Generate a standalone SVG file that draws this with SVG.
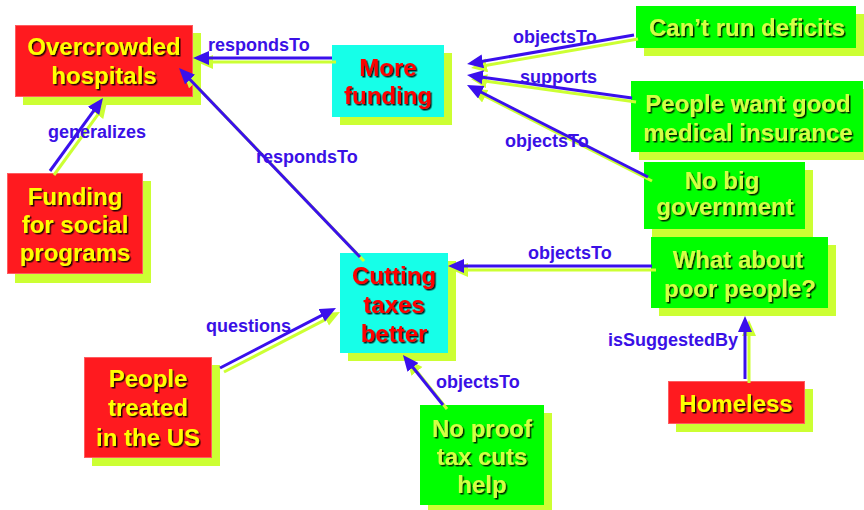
<svg xmlns="http://www.w3.org/2000/svg" width="864" height="510" viewBox="0 0 864 510">
  <defs>
    <style>
      .shadow { fill: #ccff33; }
      .red { fill: #ff1a1f; stroke: #ff5c60; stroke-width: 1; }
      .cyan { fill: #16ffe8; }
      .green { fill: #00ff00; }
      .node-text { font-family: "Liberation Sans", Arial, sans-serif; font-weight: bold; font-size: 24px; text-anchor: middle; filter: url(#txtShadow); }
      .on-red { fill: #ffff00; }
      .on-cyan { fill: #ff0000; }
      .on-green { fill: #d4ff44; }
      .edge { fill: none; stroke: #3a10ec; stroke-width: 3; }
      .edge-shadow { fill: none; stroke: #ccff33; stroke-width: 3; }
      .label { font-family: "Liberation Sans", Arial, sans-serif; font-weight: bold; font-size: 18px; fill: #3a10e6; }
    </style>
    <filter id="txtShadow" x="-10%" y="-10%" width="130%" height="140%">
      <feDropShadow dx="1.5" dy="1.5" stdDeviation="0.3" flood-color="#000" flood-opacity="0.85"/>
    </filter>
    <marker id="arrow" markerUnits="userSpaceOnUse" markerWidth="18" markerHeight="16" refX="6" refY="7" orient="auto">
      <path d="M0,0 L16,7 L0,14 z" fill="#3a10ec"/>
    </marker>
    <marker id="arrowShadow" markerUnits="userSpaceOnUse" markerWidth="18" markerHeight="16" refX="6" refY="7" orient="auto">
      <path d="M0,0 L16,7 L0,14 z" fill="#ccff33"/>
    </marker>
  </defs>

  <rect width="864" height="510" fill="#ffffff"/>

  <g id="overcrowded-hospitals">
    <rect class="shadow" x="23" y="33" width="178" height="72"/>
    <rect class="red" x="15.5" y="25.5" width="177" height="71"/>
    <text class="node-text on-red" x="104" y="55">Overcrowded<tspan x="104" y="84">hospitals</tspan></text>
  </g>

  <g id="more-funding">
    <rect class="shadow" x="340" y="53" width="112" height="72"/>
    <rect class="cyan" x="332" y="45" width="112" height="72"/>
    <text class="node-text on-cyan" x="388" y="76">More<tspan x="388" y="104">funding</tspan></text>
  </g>

  <g id="cant-run-deficits">
    <rect class="shadow" x="644" y="14" width="220" height="42"/>
    <rect class="green" x="636" y="6" width="220" height="42"/>
    <text class="node-text on-green" x="747" y="36">Can’t run deficits</text>
  </g>

  <g id="medical-insurance">
    <rect class="shadow" x="639" y="89" width="232" height="71"/>
    <rect class="green" x="631" y="81" width="232" height="71"/>
    <text class="node-text on-green" x="748" y="112">People want good<tspan x="748" y="141">medical insurance</tspan></text>
  </g>

  <g id="no-big-government">
    <rect class="shadow" x="652" y="170" width="161" height="67"/>
    <rect class="green" x="644" y="162" width="161" height="67"/>
    <text class="node-text on-green" x="722" y="189">No big<tspan x="725" y="215">government</tspan></text>
  </g>

  <g id="what-about-poor">
    <rect class="shadow" x="659" y="245" width="177" height="71"/>
    <rect class="green" x="651" y="237" width="177" height="71"/>
    <text class="node-text on-green" x="738" y="268">What about<tspan x="740" y="297">poor people?</tspan></text>
  </g>

  <g id="homeless">
    <rect class="shadow" x="676" y="389" width="137" height="43"/>
    <rect class="red" x="668.5" y="381.5" width="136" height="42"/>
    <text class="node-text on-red" x="736" y="412">Homeless</text>
  </g>

  <g id="no-proof">
    <rect class="shadow" x="428" y="413" width="124" height="100"/>
    <rect class="green" x="420" y="405" width="124" height="100"/>
    <text class="node-text on-green" x="482" y="437">No proof<tspan x="482" y="465">tax cuts</tspan><tspan x="482" y="493">help</tspan></text>
  </g>

  <g id="cutting-taxes">
    <rect class="shadow" x="348" y="261" width="108" height="100"/>
    <rect class="cyan" x="340" y="253" width="108" height="100"/>
    <text class="node-text on-cyan" x="394" y="284">Cutting<tspan x="394" y="313">taxes</tspan><tspan x="394" y="342">better</tspan></text>
  </g>

  <g id="people-treated">
    <rect class="shadow" x="92" y="365" width="128" height="101"/>
    <rect class="red" x="84.5" y="357.5" width="127" height="100"/>
    <text class="node-text on-red" x="148" y="387">People<tspan x="148" y="416">treated</tspan><tspan x="148" y="446">in the US</tspan></text>
  </g>

  <g id="funding-social">
    <rect class="shadow" x="15" y="181" width="136" height="102"/>
    <rect class="red" x="7.5" y="173.5" width="135" height="100"/>
    <text class="node-text on-red" x="75" y="205">Funding<tspan x="75" y="233">for social</tspan><tspan x="75" y="261">programs</tspan></text>
  </g>

  <!-- connectors: a lime copy offset down-right, then the blue line on top -->
  <g id="connectors">
    <g transform="translate(4,4)">
      <line class="edge-shadow" x1="332" y1="58" x2="203" y2="58" marker-end="url(#arrowShadow)"/>
      <line class="edge-shadow" x1="50" y1="171" x2="97.1" y2="106.1" marker-end="url(#arrowShadow)"/>
      <line class="edge-shadow" x1="360" y1="257" x2="185.9" y2="75.2" marker-end="url(#arrowShadow)"/>
      <line class="edge-shadow" x1="634" y1="35" x2="476.9" y2="62.3" marker-end="url(#arrowShadow)"/>
      <line class="edge-shadow" x1="632" y1="98" x2="476.9" y2="76.4" marker-end="url(#arrowShadow)"/>
      <line class="edge-shadow" x1="648" y1="177" x2="475.9" y2="89.5" marker-end="url(#arrowShadow)"/>
      <line class="edge-shadow" x1="652" y1="266" x2="458" y2="266" marker-end="url(#arrowShadow)"/>
      <line class="edge-shadow" x1="745" y1="379" x2="745" y2="326" marker-end="url(#arrowShadow)"/>
      <line class="edge-shadow" x1="220" y1="368" x2="327.1" y2="312.6" marker-end="url(#arrowShadow)"/>
      <line class="edge-shadow" x1="443" y1="405" x2="409.2" y2="362.8" marker-end="url(#arrowShadow)"/>
    </g>
    <line class="edge" x1="332" y1="58" x2="203" y2="58" marker-end="url(#arrow)"/>
    <line class="edge" x1="50" y1="171" x2="97.1" y2="106.1" marker-end="url(#arrow)"/>
    <line class="edge" x1="360" y1="257" x2="185.9" y2="75.2" marker-end="url(#arrow)"/>
    <line class="edge" x1="634" y1="35" x2="476.9" y2="62.3" marker-end="url(#arrow)"/>
    <line class="edge" x1="632" y1="98" x2="476.9" y2="76.4" marker-end="url(#arrow)"/>
    <line class="edge" x1="648" y1="177" x2="475.9" y2="89.5" marker-end="url(#arrow)"/>
    <line class="edge" x1="652" y1="266" x2="458" y2="266" marker-end="url(#arrow)"/>
    <line class="edge" x1="745" y1="379" x2="745" y2="326" marker-end="url(#arrow)"/>
    <line class="edge" x1="220" y1="368" x2="327.1" y2="312.6" marker-end="url(#arrow)"/>
    <line class="edge" x1="443" y1="405" x2="409.2" y2="362.8" marker-end="url(#arrow)"/>

    <text class="label" x="208" y="51">respondsTo</text>
    <text class="label" x="48" y="138">generalizes</text>
    <text class="label" x="256" y="163">respondsTo</text>
    <text class="label" x="513" y="43">objectsTo</text>
    <text class="label" x="520" y="83">supports</text>
    <text class="label" x="505" y="147">objectsTo</text>
    <text class="label" x="528" y="259">objectsTo</text>
    <text class="label" x="608" y="346">isSuggestedBy</text>
    <text class="label" x="206" y="332">questions</text>
    <text class="label" x="436" y="388">objectsTo</text>
  </g>
</svg>
